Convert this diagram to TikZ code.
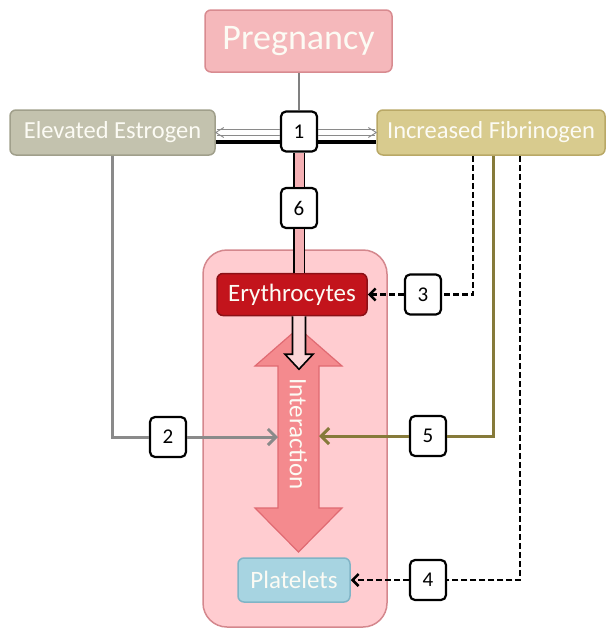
\documentclass[tikz,border=0pt]{standalone}
\usepackage{fontspec}
\setmainfont{Carlito}
\usetikzlibrary{arrows.meta,calc}
\definecolor{pregfill}{HTML}{F5B8BB}
\definecolor{pregdraw}{HTML}{D88B90}
\definecolor{estfill}{HTML}{C3C2AE}
\definecolor{estdraw}{HTML}{A09F8B}
\definecolor{fibfill}{HTML}{D8CB8E}
\definecolor{fibdraw}{HTML}{B9A866}
\definecolor{cellfill}{HTML}{FFCCD0}
\definecolor{celldraw}{HTML}{D4878D}
\definecolor{eryfill}{HTML}{C3141C}
\definecolor{erydraw}{HTML}{8C1016}
\definecolor{interfill}{HTML}{F48A8E}
\definecolor{interdraw}{HTML}{E06A72}
\definecolor{platfill}{HTML}{A7D4E1}
\definecolor{platdraw}{HTML}{80B4C6}
\definecolor{grayline}{HTML}{8A8A8A}
\definecolor{oliveline}{HTML}{867A3A}
\definecolor{colpink}{HTML}{F4B0B4}
\definecolor{hollowfill}{HTML}{FBD5D7}
\definecolor{softwhite}{HTML}{FCFBF4}
\tikzset{
  box/.style={rounded corners=6pt, line width=1.5pt, text=softwhite, inner sep=0pt},
  numbox/.style={draw=black, fill=white, line width=2.2pt, rounded corners=5pt,
    minimum width=36pt, minimum height=40pt, inner sep=0pt, font=\fontsize{21}{21}\selectfont},
  hol/.style={draw=grayline, line width=0.9pt},
  thickblack/.style={draw=black, line width=4pt},
  column/.style={draw=black, line width=1.6pt, double=colpink, double distance=9pt},
  hollowarrow/.style={draw=black, fill=hollowfill, line width=1.6pt, line join=miter},
  grayarrow/.style={draw=grayline, line width=3pt, -{Straight Barb[length=8pt,width=16pt]}},
  olivearrow/.style={draw=oliveline, line width=3pt, -{Straight Barb[length=8pt,width=16pt]}},
  dasharrow/.style={draw=black, line width=2.5pt, dash pattern=on 6pt off 3pt},
}
\begin{document}
\begin{tikzpicture}[x=1pt,y=-1pt]
\useasboundingbox (0,0) rectangle (607,629);
% big cell
\node[draw=celldraw, fill=cellfill, line width=1.5pt, rounded corners=24pt,
  minimum width=184pt, minimum height=377pt] (cell) at (295,438.5) {};
% main boxes
\node[box, fill=pregfill, draw=pregdraw, minimum width=187pt, minimum height=62pt,
  font=\fontsize{36}{36}\selectfont] (preg) at (298.5,41) {Pregnancy};
\node[box, fill=estfill, draw=estdraw, minimum width=205pt, minimum height=45pt,
  font=\fontsize{24.5}{24.5}\selectfont] (est) at (112.5,132.5) {Elevated Estrogen};
\node[box, fill=fibfill, draw=fibdraw, minimum width=228pt, minimum height=45pt,
  font=\fontsize{24.5}{24.5}\selectfont] (fib) at (491,132.5) {Increased Fibrinogen};
\node[numbox] (n1) at (299,131.5) {1};
\node[numbox] (n6) at (299,208) {6};
\node[box, fill=eryfill, draw=erydraw, minimum width=150pt, minimum height=42pt,
  font=\fontsize{25}{25}\selectfont] (ery) at (292,294.5) {Erythrocytes};
\node[box, fill=platfill, draw=platdraw, minimum width=112pt, minimum height=44pt,
  font=\fontsize{25}{25}\selectfont] (plat) at (294,580) {Platelets};
\node[numbox] (n2) at (168,437) {2};
\node[numbox] (n3) at (423,294.5) {3};
\node[numbox] (n4) at (428,580) {4};
\node[numbox] (n5) at (428,436) {5};
% interaction double arrow
\draw[draw=interdraw, fill=interfill, line width=1.2pt, line join=miter]
  (298.5,328) -- (342,366) -- (319,366) -- (319,508) -- (342,508) -- (298.5,552)
  -- (255,508) -- (278,508) -- (278,366) -- (255,366) -- cycle;
\coordinate (intL) at (278,437);
\coordinate (intR) at (319,436);
\node[rotate=-90, text=softwhite, font=\fontsize{25}{25}\selectfont] (inter) at (298.5,434) {Interaction};
% pregnancy to 1
\draw[draw=gray, line width=1.2pt] (preg.south -| n1.north) -- (n1.north);
% hollow double arrows from 1
\coordinate (a1) at ($(est.east)+(1,-3)$);
\coordinate (a2) at ($(est.east)+(1,3)$);
\draw[hol] (a1) -- (n1.west |- a1);
\draw[hol] (a2) -- (n1.west |- a2);
\draw[hol] ($(est.east)+(8,-5)$) -- (est.east) -- ($(est.east)+(8,5)$);
\coordinate (b1) at ($(fib.west)+(-1,-3)$);
\coordinate (b2) at ($(fib.west)+(-1,3)$);
\draw[hol] (b1) -- (n1.east |- b1);
\draw[hol] (b2) -- (n1.east |- b2);
\draw[hol] ($(fib.west)+(-8,-5)$) -- (fib.west) -- ($(fib.west)+(-8,5)$);
\coordinate (tb) at ($(n1.center)+(0,10)$);
\draw[thickblack] (est.east |- tb) -- (n1.west |- tb);
\draw[thickblack] (n1.east |- tb) -- (fib.west |- tb);
% pink column
\draw[column] (n1.south) -- (n6.north);
\draw[column] (n6.south) -- (n6.south |- ery.north);
\coordinate (hs) at (ery.south -| n6.south);
\draw[hollowarrow] ($(hs)+(-6.5,0)$) -- ($(hs)+(-6.5,38)$) -- ($(hs)+(-14,38)$)
  -- ($(hs)+(0,53)$) -- ($(hs)+(14,38)$) -- ($(hs)+(6.5,38)$) -- ($(hs)+(6.5,0)$);
% 2 : estrogen
\draw[draw=grayline, line width=3pt] (est.south) |- (n2.west);
\draw[grayarrow] (n2.east) -- (intL);
% 5 : fibrinogen
\coordinate (f5) at ($(fib.south)+(2,0)$);
\draw[draw=oliveline, line width=3pt] (f5) |- (n5.east);
\draw[olivearrow] (n5.west) -- (intR);
% 3 : dashed to erythrocytes
\coordinate (f3) at ($(fib.south)+(-18,0)$);
\draw[dasharrow] (f3) |- (n3.east);
\draw[dasharrow, -{Straight Barb[length=6pt,width=12pt]}] (n3.west) -- (ery.east);
% 4 : dashed to platelets
\coordinate (f4) at ($(fib.south)+(29,0)$);
\draw[dasharrow] (f4) |- (n4.east);
\draw[dasharrow, -{Straight Barb[length=6pt,width=12pt]}] (n4.west) -- (plat.east);
\end{tikzpicture}
\end{document}
